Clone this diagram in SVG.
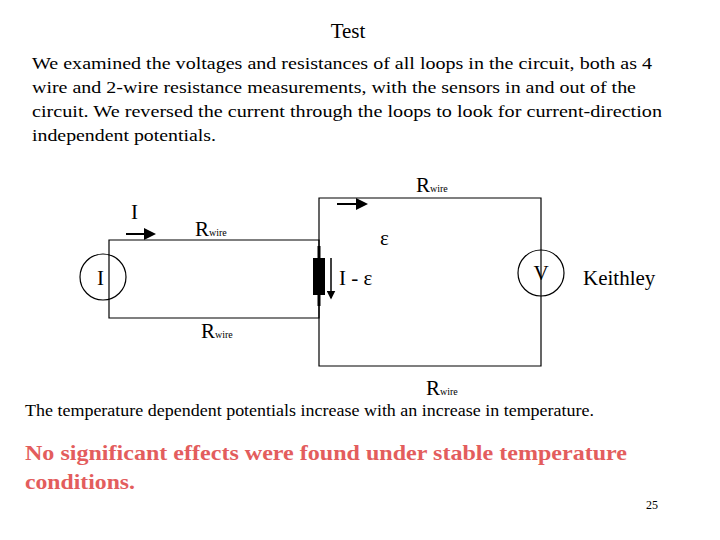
<svg xmlns="http://www.w3.org/2000/svg" width="720" height="540" viewBox="0 0 720 540">
<style>
text{font-family:"Liberation Serif",serif;fill:#000}
.w{fill:none;stroke:#000;stroke-width:1.2}
.a{stroke:#000;stroke-width:2;marker-end:url(#ah)}
</style>
<defs><marker id="ah" markerWidth="6" markerHeight="6" refX="5" refY="3" orient="auto" markerUnits="strokeWidth"><path d="M0,0L6,3L0,6Z" fill="#000"/></marker></defs>
<rect width="720" height="540" fill="#fff"/>
<text x="348" y="38" font-size="21" text-anchor="middle">Test</text>
<g font-size="17.5">
<text x="32" y="69" textLength="620" lengthAdjust="spacingAndGlyphs">We examined the voltages and resistances of all loops in the circuit, both as 4</text>
<text x="32" y="93" textLength="604" lengthAdjust="spacingAndGlyphs">wire and 2-wire resistance measurements, with the sensors in and out of the</text>
<text x="32" y="117" textLength="630" lengthAdjust="spacingAndGlyphs">circuit.  We reversed the current through the loops to look for current-direction</text>
<text x="32" y="141" textLength="184" lengthAdjust="spacingAndGlyphs">independent potentials.</text>
</g>
<g id="connectors">
<path class="w" d="M109,240H319V318H109Z"/>
<path class="w" d="M319,198H541V366H319Z"/>
<line class="a" x1="126" y1="234" x2="154" y2="234"/>
<line class="a" x1="337" y1="204" x2="366" y2="204"/>
<line x1="331" y1="258" x2="331" y2="298" stroke="#000" stroke-width="1.5" marker-end="url(#ah)"/>
</g>
<g id="source"><circle cx="103" cy="277" r="23" fill="none" stroke="#000" stroke-width="1.2"/><text x="97" y="285" font-size="21">I</text></g>
<g id="meter"><circle cx="541" cy="273" r="23" fill="none" stroke="#000" stroke-width="1.2"/><text x="541" y="280" font-size="21" text-anchor="middle">V</text></g>
<g id="sensor"><line x1="319" y1="246" x2="319" y2="306" stroke="#000" stroke-width="3"/><rect x="313" y="258" width="12" height="37" fill="#000"/></g>
<g id="labels" font-size="21">
<text x="131" y="219">I</text>
<text x="195" y="236">R<tspan font-size="10">wire</tspan></text>
<text x="416" y="192">R<tspan font-size="10">wire</tspan></text>
<text x="201" y="338">R<tspan font-size="10">wire</tspan></text>
<text x="426" y="395">R<tspan font-size="10">wire</tspan></text>
<text x="380" y="245">ε</text>
<text x="339" y="285">I - ε</text>
<text x="583" y="285">Keithley</text>
</g>
<text x="25" y="416" font-size="16.5" textLength="569" lengthAdjust="spacingAndGlyphs">The temperature dependent potentials increase with an increase in temperature.</text>
<g font-size="21" font-weight="bold"><text x="25" y="460" style="fill:#e35d5d" textLength="602" lengthAdjust="spacingAndGlyphs">No significant effects were found under stable temperature</text><text x="25" y="489" style="fill:#e35d5d" textLength="110" lengthAdjust="spacingAndGlyphs">conditions.</text></g>
<text x="658" y="509" font-size="12" text-anchor="end">25</text>
</svg>
